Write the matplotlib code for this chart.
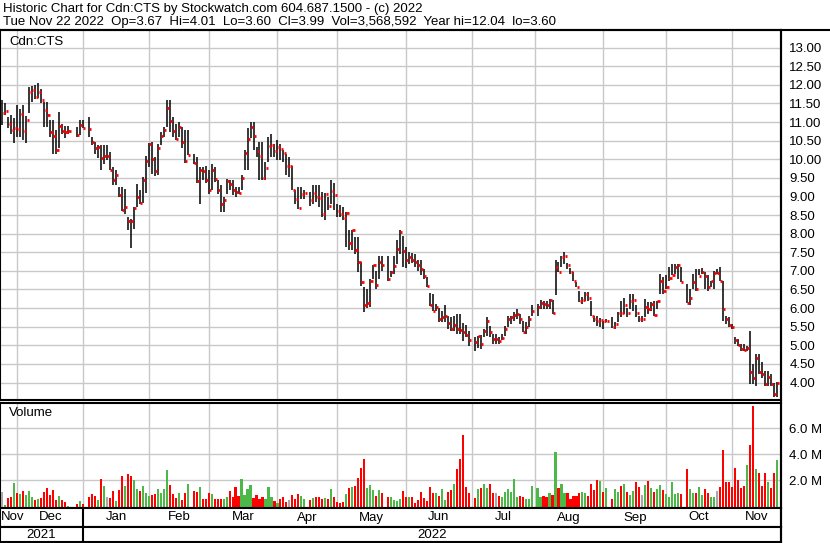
import numpy as np
import pandas as pd
import matplotlib
matplotlib.use("Agg")
import matplotlib.pyplot as plt
from matplotlib.lines import Line2D

plt.rcParams["font.family"] = ["Liberation Sans", "DejaVu Sans"]
nan = np.nan

# one slot per business day, nan on exchange holidays
dates = pd.bdate_range("2021-11-24", "2022-11-22")

highs = [
    11.59, 11.50, 11.14, 11.19, 11.10, 11.46, 11.34, 11.46, 11.16, 11.93,
    11.97, 12.00, 12.04, 11.90, 11.55, 11.55, 11.05, 11.05, 10.78, 11.27,
    10.96, 10.89, 10.89, nan, nan, 10.87, 11.05, 11.05, nan, 11.14,
    10.60, 10.47, 10.38, 10.38, 10.38, 10.38, 10.20, 9.79, 9.70, 9.25,
    9.25, 9.21, 8.44, 8.40, 8.71, 9.34, 9.16, 9.52, 10.10, 10.44,
    10.47, 10.06, 10.42, 10.74, 10.87, 11.59, 11.59, 11.14, 10.96, 11.01,
    10.87, 10.78, 10.78, nan, 10.15, 10.06, 9.79, 9.79, 9.81, 9.70,
    9.87, 9.79, 9.43, 9.30, 8.98, 9.48, 9.43, 9.43, 9.25, 9.25,
    9.57, 10.24, 10.83, 11.01, 11.01, 10.33, 10.47, 10.47, 9.93, 10.60,
    10.69, 10.42, 10.51, 10.42, 10.24, 10.15, 10.06, 9.81, 9.16, 9.25,
    9.25, 9.16, nan, 9.12, 9.30, 9.30, 9.30, 9.12, 9.09, 8.99,
    9.45, 9.36, 8.81, 8.76, 8.72, 8.58, 8.10, 8.10, 7.92, 7.92,
    7.23, 6.58, 6.51, 6.78, 7.17, 7.01, 7.41, 7.41, nan, 7.39,
    7.01, 7.41, 7.82, 8.09, 7.95, 7.64, 7.50, 7.48, 7.46, 7.30,
    7.30, 7.05, 6.83, 6.40, 6.38, 6.11, 6.00, 5.93, 6.07, 5.79,
    5.75, 5.79, 5.84, 5.84, 5.61, 5.55, 5.39, nan, 5.21, 5.26,
    5.28, 5.44, 5.77, 5.53, 5.30, 5.30, 5.21, 5.30, 5.53, 5.80,
    5.80, 5.89, 5.98, 5.84, 5.66, 5.62, 5.80, 6.07, nan, 6.11,
    6.22, 6.20, 6.20, 6.25, 6.22, 7.28, 7.23, 7.41, 7.50, 7.21,
    7.08, 6.96, 6.70, 6.47, 6.29, 6.43, 6.43, 6.20, 5.80, 5.80,
    5.73, 5.66, 5.71, nan, 5.75, 5.62, 5.89, 6.18, 6.28, 6.00,
    6.38, 6.38, 6.07, 5.80, 5.80, 6.25, 6.16, 6.16, 6.20, 6.20,
    6.92, 6.83, 6.88, 7.10, 7.19, 7.19, 7.19, 7.10, nan, 6.65,
    6.52, 6.92, 7.06, 7.06, 7.08, 6.97, 6.88, 6.74, 7.01, 7.06,
    7.10, 6.74, 5.80, 5.75, 5.57, 5.21, 5.17, 5.03, 5.03, 4.99,
    5.39, 4.49, 4.76, 4.76, 4.54, 4.31, 4.31, 4.22, 4.00, 4.01,
]

lows = [
    10.92, 11.19, 10.83, 10.69, 10.44, 10.60, 10.60, 10.51, 10.44, 11.25,
    11.55, 11.61, 11.64, 11.50, 10.87, 10.87, 10.60, 10.15, 10.15, 10.29,
    10.69, 10.58, 10.69, nan, nan, 10.60, 10.65, 10.83, nan, 10.60,
    10.38, 10.15, 10.02, 9.70, 9.88, 9.97, 9.70, 9.30, 9.30, 8.98,
    8.62, 8.53, 8.10, 7.62, 8.13, 8.71, 8.80, 8.82, 9.09, 9.79,
    9.61, 9.54, 9.57, 10.38, 10.60, 10.87, 10.74, 10.60, 10.51, 10.60,
    10.29, 9.90, 10.11, nan, 9.88, 9.36, 8.81, 9.43, 9.36, 9.07,
    9.16, 9.39, 9.07, 8.58, 8.58, 9.07, 9.16, 9.03, 8.98, 9.07,
    9.16, 9.70, 9.70, 10.56, 10.24, 10.06, 9.43, 9.43, 9.43, 9.93,
    10.06, 10.06, 9.97, 9.97, 9.93, 9.57, 9.52, 9.16, 8.81, 8.67,
    8.94, 8.94, nan, 8.73, 8.81, 8.85, 8.72, 8.45, 8.37, 8.64,
    8.81, 8.64, 8.45, 8.45, 8.36, 7.64, 7.57, 7.57, 7.46, 6.96,
    6.60, 5.89, 6.00, 6.02, 6.78, 6.51, 6.78, 7.01, nan, 6.74,
    6.83, 6.92, 7.19, 7.46, 7.10, 7.08, 7.19, 7.21, 7.10, 7.01,
    6.90, 6.78, 6.56, 6.06, 5.93, 5.93, 5.62, 5.62, 5.62, 5.44,
    5.39, 5.39, 5.30, 5.30, 5.12, 5.21, 4.99, nan, 4.85, 4.94,
    4.90, 5.21, 5.26, 5.21, 5.03, 5.03, 5.03, 5.15, 5.26, 5.48,
    5.57, 5.66, 5.71, 5.57, 5.35, 5.30, 5.48, 5.80, nan, 5.80,
    5.98, 5.98, 5.98, 5.98, 5.84, 6.34, 6.96, 7.10, 7.19, 7.05,
    6.92, 6.74, 6.56, 6.16, 6.11, 6.20, 6.20, 5.80, 5.62, 5.53,
    5.50, 5.44, 5.62, nan, 5.46, 5.44, 5.62, 5.75, 5.85, 5.77,
    5.98, 5.93, 5.77, 5.62, 5.62, 5.75, 5.84, 5.93, 5.80, 5.98,
    6.38, 6.38, 6.52, 6.74, 6.88, 6.92, 6.79, 6.70, nan, 6.13,
    6.07, 6.52, 6.47, 6.88, 6.92, 6.52, 6.47, 6.56, 6.52, 6.92,
    6.74, 5.66, 5.57, 5.48, 5.44, 5.03, 4.99, 4.85, 4.85, 4.85,
    3.96, 3.96, 3.91, 4.22, 4.13, 3.91, 3.91, 3.91, 3.61, 3.60,
]

closes = [
    11.25, 11.30, 10.96, 10.78, 10.84, 10.82, 11.22, 10.76, 11.05, 11.82,
    11.86, 11.68, 11.82, 11.59, 11.32, 11.20, 10.72, 10.63, 10.24, 10.89,
    10.75, 10.74, 10.76, nan, nan, 10.65, 10.93, 10.84, nan, 10.82,
    10.45, 10.30, 10.32, 10.02, 10.09, 10.09, 9.72, 9.43, 9.57, 9.05,
    8.64, 8.71, 8.35, 8.33, 8.69, 8.98, 8.83, 9.43, 9.95, 10.40,
    10.00, 9.69, 10.30, 10.63, 10.78, 11.38, 11.02, 10.76, 10.55, 10.87,
    10.47, 9.96, 10.12, nan, 9.90, 9.42, 9.72, 9.69, 9.45, 9.16,
    9.70, 9.47, 9.16, 8.81, 8.90, 9.42, 9.33, 9.18, 9.12, 9.09,
    9.50, 10.17, 10.55, 10.87, 10.63, 10.22, 10.08, 9.49, 9.77, 10.35,
    10.38, 10.22, 10.33, 10.28, 10.18, 9.81, 9.81, 9.18, 8.93, 8.70,
    9.06, 9.09, nan, 8.90, 9.09, 8.99, 8.95, 8.54, 9.06, 8.74,
    9.15, 9.03, 8.61, 8.54, 8.42, 8.55, 7.75, 8.09, 7.55, 7.23,
    6.69, 6.07, 6.15, 6.72, 7.15, 6.61, 7.23, 7.17, nan, 6.79,
    6.96, 7.13, 7.58, 8.04, 7.53, 7.28, 7.37, 7.28, 7.23, 7.17,
    7.06, 6.85, 6.60, 6.09, 5.93, 6.04, 5.71, 5.77, 5.80, 5.61,
    5.44, 5.55, 5.45, 5.42, 5.36, 5.28, 5.14, nan, 5.08, 5.26,
    5.03, 5.39, 5.64, 5.37, 5.18, 5.18, 5.11, 5.20, 5.45, 5.70,
    5.75, 5.81, 5.84, 5.72, 5.37, 5.50, 5.70, 5.93, nan, 6.04,
    6.13, 6.11, 6.09, 6.23, 5.88, 7.10, 6.98, 7.37, 7.39, 7.17,
    6.96, 6.74, 6.58, 6.18, 6.23, 6.37, 6.26, 5.80, 5.71, 5.64,
    5.69, 5.64, 5.66, nan, 5.48, 5.56, 5.87, 5.86, 6.07, 5.86,
    6.18, 6.22, 5.88, 5.72, 5.72, 6.02, 5.98, 6.11, 5.82, 6.20,
    6.74, 6.47, 6.56, 6.81, 6.90, 7.10, 7.16, 6.71, nan, 6.15,
    6.26, 6.70, 6.50, 6.86, 6.96, 6.85, 6.56, 6.72, 6.94, 6.94,
    6.74, 5.97, 5.72, 5.55, 5.48, 5.14, 5.00, 4.89, 4.87, 4.92,
    4.27, 4.12, 4.67, 4.29, 4.22, 3.97, 4.16, 3.97, 3.70, 3.99,
]

# volume in millions of shares
volume_m = [
    1.13, 0.11, 0.67, 0.70, 1.80, 1.03, 0.95, 1.18, 0.88, 1.18,
    0.72, 0.49, 0.57, 0.64, 1.11, 1.41, 0.88, 1.23, 0.49, 0.80,
    0.47, 0.36, 0.02, nan, nan, 0.18, 0.41, 0.18, nan, 0.72,
    0.95, 0.80, 0.52, 2.11, 1.57, 0.72, 0.62, 1.21, 0.41, 1.26,
    2.34, 1.57, 2.49, 2.34, 2.03, 1.34, 1.21, 1.57, 1.03, 0.80,
    0.85, 0.95, 1.36, 1.00, 1.34, 2.80, 1.64, 0.95, 0.67, 1.06,
    0.49, 1.03, 1.72, nan, 1.18, 1.11, 1.49, 0.57, 0.57, 1.03,
    0.93, 0.57, 0.57, 0.57, 0.57, 0.70, 1.18, 0.75, 1.47, 0.80,
    2.11, 0.88, 1.34, 1.64, 0.64, 0.88, 0.54, 0.75, 0.54, 1.49,
    0.72, 0.41, 0.26, 0.57, 0.72, 0.36, 0.47, 0.88, 0.57, 0.93,
    0.80, 0.57, nan, 0.52, 0.64, 0.75, 0.70, 0.57, 0.64, 0.54,
    1.34, 0.72, 0.36, 0.29, 0.31, 0.95, 1.41, 1.49, 1.57, 2.21,
    2.95, 3.62, 1.39, 1.64, 1.26, 0.80, 1.29, 1.03, nan, 0.72,
    0.72, 0.52, 0.44, 0.57, 1.18, 0.72, 0.72, 0.74, 0.28, 0.49,
    1.10, 0.67, 0.41, 1.49, 1.03, 1.00, 0.79, 1.33, 0.49, 1.10,
    1.26, 1.72, 2.87, 3.64, 5.49, 1.49, 1.03, nan, 0.67, 1.33,
    1.40, 1.75, 1.40, 1.72, 1.05, 1.05, 0.80, 0.70, 1.10, 1.35,
    1.10, 2.10, 0.75, 0.80, 0.70, 0.60, 0.60, 1.60, nan, 1.40,
    0.70, 0.80, 0.70, 1.05, 0.90, 4.20, 1.40, 1.70, 1.00, 1.05,
    0.60, 0.80, 0.80, 1.05, 1.10, 1.00, 0.80, 1.75, 1.25, 2.05,
    1.95, 1.10, 1.40, nan, 0.60, 1.35, 1.10, 1.60, 1.70, 1.10,
    0.90, 1.20, 1.85, 1.45, 0.85, 1.65, 1.95, 1.40, 1.10, 1.35,
    1.65, 1.25, 0.95, 0.75, 1.85, 0.95, 1.05, 0.95, nan, 2.85,
    1.30, 1.00, 1.00, 1.45, 0.90, 1.35, 1.00, 0.75, 0.75, 1.15,
    1.45, 4.30, 1.85, 1.90, 1.45, 2.95, 2.05, 1.40, 1.60, 3.20,
    4.70, 7.75, 2.85, 2.55, 1.60, 2.60, 1.90, 1.40, 2.60, 3.57,
]

title1 = "Historic Chart for Cdn:CTS by Stockwatch.com 604.687.1500 - (c) 2022"
title2 = ("Tue Nov 22 2022  Op=3.67  Hi=4.01  Lo=3.60  Cl=3.99  "
          "Vol=3,568,592  Year hi=12.04  lo=3.60")
symbol = "Cdn:CTS"

GRID = "#c8c8c8"
RED = "#ff0000"
GREEN = "#4cb848"
GRAY = "#a8a8a8"

W, H = 830, 543
fig = plt.figure(figsize=(W / 100, H / 100), dpi=100)


def box(x0, y0, x1, y1):
    # pixel box (from top-left) -> figure fraction rect
    return [x0 / W, 1 - y1 / H, (x1 - x0) / W, (y1 - y0) / H]


ax = fig.add_axes(box(0, 30, 781, 400))
axv = fig.add_axes(box(0, 403, 781, 508))
axm = fig.add_axes(box(0, 508, 781, 527))
axy = fig.add_axes(box(0, 527, 781, 542))

x = np.arange(len(dates))
hi = np.array(highs)
lo = np.array(lows)
cl = np.array(closes)
vol = np.array(volume_m)
ok = ~np.isnan(cl)

# bar i sits at pixel 2.99*i + 2.35
xlim = (-2.35 / 2.99, (781 - 2.35) / 2.99)

month_firsts = pd.date_range("2021-12-01", "2022-11-01", freq="MS")
mpos = dates.searchsorted(month_firsts, side="right") - 1

# price bars
ax.vlines(x[ok], lo[ok], hi[ok], color="black", lw=1.1, zorder=3)
ax.hlines(cl[ok], x[ok] + 0.1, x[ok] + 0.8, color=RED, lw=2.0, zorder=4)
ax.set_xlim(*xlim)
ax.set_ylim(3.53, 13.473)
ax.set_yticks(np.arange(4, 13.01, 0.5))
ax.set_yticklabels([f"{v:.2f}" for v in np.arange(4, 13.01, 0.5)])

# volume bars coloured by change in close
prev = pd.Series(cl).ffill().shift(1).to_numpy()
chg = cl - prev
vcol = np.where(chg > 1e-9, GREEN, np.where(chg < -1e-9, RED, GRAY))
vbot = -0.13
axv.bar(x[ok], vol[ok] - vbot, bottom=vbot, width=0.72, color=vcol[ok],
        linewidth=0, zorder=3)
axv.set_xlim(*xlim)
axv.set_ylim(vbot, 7.95)
axv.set_yticks([2, 4, 6])
axv.set_yticklabels(["2.0 M", "4.0 M", "6.0 M"])

for a in (ax, axv):
    a.set_xticks(mpos)
    a.grid(True, color=GRID, lw=1.0)
    a.set_axisbelow(True)
    a.yaxis.tick_right()
    a.tick_params(axis="both", length=0, labelbottom=False, labelsize=9.5,
                  pad=6)
    for s in a.spines.values():
        s.set_color("black")
        s.set_linewidth(1.5)

# month and year rows
bounds = [xlim[0]] + list(mpos) + [xlim[1]]
mnames = [dates[0].strftime("%b")] + [d.strftime("%b") for d in month_firsts]
for a in (axm, axy):
    a.set_xlim(*xlim)
    a.set_ylim(0, 1)
    a.set_xticks([])
    a.set_yticks([])
    for s in a.spines.values():
        s.set_color("black")
        s.set_linewidth(1.5)
    a.axvline(mpos[1], color="black", lw=1.5)

for k, name in enumerate(mnames):
    if k == 0:
        # partial first month: keep the label inside the frame
        axm.text(bounds[0] + 0.4, 0.5, name, ha="left", va="center",
                 fontsize=9.5)
    else:
        axm.text((bounds[k] + bounds[k + 1]) / 2, 0.5, name, ha="center",
                 va="center", fontsize=9.5)

years = ["2021", "2022"]
ybounds = [xlim[0], mpos[1], xlim[1]]
for k, yr in enumerate(years):
    axy.text((ybounds[k] + ybounds[k + 1]) / 2, 0.45, yr, ha="center",
             va="center", fontsize=9.5)

# header and labels
fig.text(3 / W, 1 - 9 / H, title1, ha="left", va="center", fontsize=9.5)
fig.text(3 / W, 1 - 22 / H, title2, ha="left", va="center", fontsize=9.5)
fig.text(9 / W, 1 - 42 / H, symbol, ha="left", va="center", fontsize=9.5)
fig.text(9 / W, 1 - 413 / H, "Volume", ha="left", va="center", fontsize=9.5)

fig.add_artist(Line2D([0, 1], [1 - 29.5 / H] * 2, color="black", lw=1.5))
fig.add_artist(Line2D([781 / W] * 2, [0, 1 - 29.5 / H], color="black", lw=1.5))

fig.savefig("out.png", dpi=100)
